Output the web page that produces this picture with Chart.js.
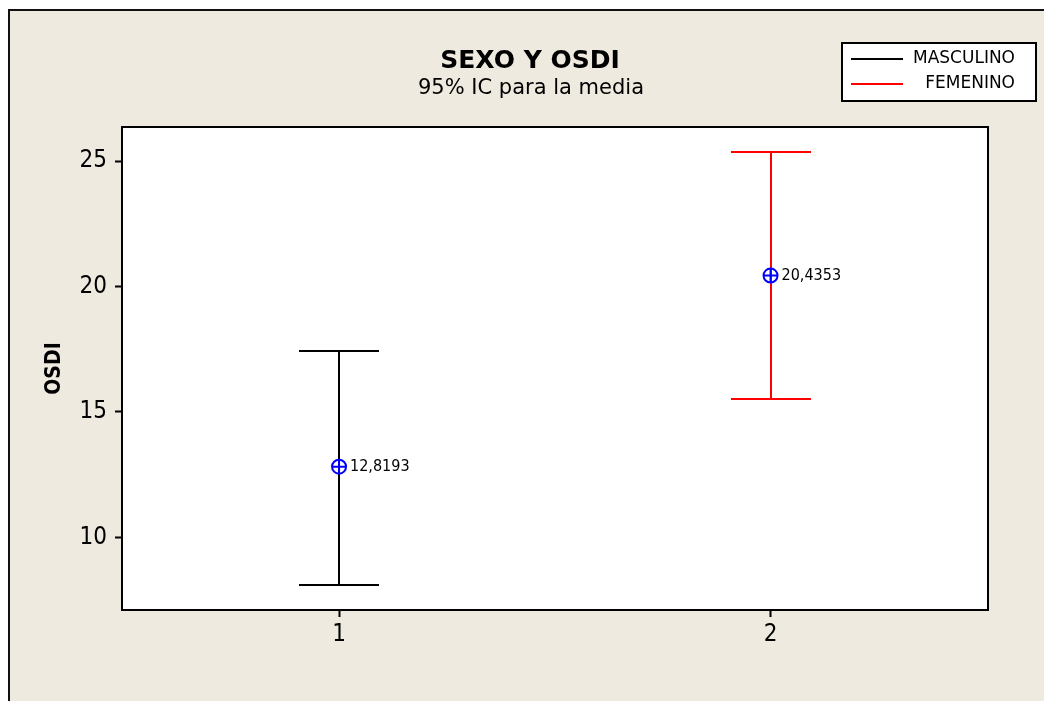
<!DOCTYPE html>
<html><head><meta charset="utf-8">
<script src="https://cdn.jsdelivr.net/npm/chart.js@4/dist/chart.umd.min.js"></script>
<style>html,body{margin:0;padding:0;background:#fff;overflow:hidden}#wrap{width:1044px;height:701px;position:relative}</style>
</head><body><div id="wrap"><canvas id="c" width="1044" height="701"></canvas></div>
<script>
const categories = ['MASCULINO', 'FEMENINO'];
const groupX = [1, 2];
const means = [12.8193, 20.4353];
const lowerCI = [8.10, 15.53];
const upperCI = [17.44, 25.37];
const seriesColors = ['#000000', '#FF0000'];
const xTicks = [1, 2];
const yTicks = [10, 15, 20, 25];
const titleText = 'SEXO Y OSDI';
const subtitleText = '95% IC para la media';
const yTitle = 'OSDI';

const FONT = "'DejaVu Sans Condensed','DejaVu Sans',sans-serif";
const FONT2 = "'DejaVu Sans',sans-serif";
const MARK = '#0000FF';
const BG = '#EEEAE0';
const CAP = 40;

const decorPlugin = {
  id: 'decor',
  beforeDraw(chart) {
    const ctx = chart.ctx, a = chart.chartArea, W = chart.width, H = chart.height;
    ctx.save();
    ctx.fillStyle = '#ffffff'; ctx.fillRect(0, 0, W, H);
    ctx.fillStyle = BG; ctx.fillRect(10, 11, W - 10, H - 11);
    ctx.strokeStyle = '#111'; ctx.lineWidth = 2;
    ctx.beginPath(); ctx.moveTo(9, H); ctx.lineTo(9, 10); ctx.lineTo(W, 10); ctx.stroke();
    ctx.fillStyle = '#ffffff'; ctx.fillRect(a.left, a.top, a.right - a.left, a.bottom - a.top);
    ctx.restore();
  },
  beforeDatasetsDraw(chart) {
    const ctx = chart.ctx, xs = chart.scales.x, ys = chart.scales.y;
    ctx.save();
    groupX.forEach((gx, i) => {
      const px = Math.round(xs.getPixelForValue(gx));
      const pl = Math.round(ys.getPixelForValue(lowerCI[i]));
      const pu = Math.round(ys.getPixelForValue(upperCI[i]));
      ctx.strokeStyle = seriesColors[i]; ctx.lineWidth = 2;
      ctx.beginPath();
      ctx.moveTo(px, pu); ctx.lineTo(px, pl);
      ctx.moveTo(px - CAP, pu); ctx.lineTo(px + CAP, pu);
      ctx.moveTo(px - CAP, pl); ctx.lineTo(px + CAP, pl);
      ctx.stroke();
    });
    ctx.restore();
  },
  afterDatasetsDraw(chart) {
    const ctx = chart.ctx, xs = chart.scales.x, ys = chart.scales.y;
    ctx.save();
    ctx.fillStyle = '#000'; ctx.font = '16px ' + FONT;
    ctx.textAlign = 'left'; ctx.textBaseline = 'middle';
    groupX.forEach((gx, i) => {
      const px = xs.getPixelForValue(gx), py = ys.getPixelForValue(means[i]);
      ctx.fillText(means[i].toFixed(4).replace('.', ','), px + 11, py);
    });
    ctx.restore();
  },
  afterDraw(chart) {
    const ctx = chart.ctx, a = chart.chartArea;
    ctx.save();
    ctx.strokeStyle = '#000'; ctx.lineWidth = 2;
    ctx.beginPath(); ctx.moveTo(a.left, a.top); ctx.lineTo(a.right, a.top); ctx.lineTo(a.right, a.bottom); ctx.stroke();
    ctx.fillStyle = '#000'; ctx.textAlign = 'center'; ctx.textBaseline = 'alphabetic';
    ctx.font = 'bold 25px ' + FONT2; ctx.fillText(titleText, 530, 68);
    ctx.font = '21px ' + FONT2; ctx.fillText(subtitleText, 531, 94);
    ctx.fillStyle = '#fff'; ctx.fillRect(842, 43, 194, 58);
    ctx.strokeStyle = '#000'; ctx.lineWidth = 2; ctx.strokeRect(842, 43, 194, 58);
    const ly = [59, 84];
    ctx.font = '17px ' + FONT2; ctx.textAlign = 'right'; ctx.textBaseline = 'middle';
    categories.forEach((c, i) => {
      ctx.strokeStyle = seriesColors[i]; ctx.lineWidth = 2;
      ctx.beginPath(); ctx.moveTo(851, ly[i]); ctx.lineTo(903, ly[i]); ctx.stroke();
      ctx.fillStyle = '#000'; ctx.fillText(c, 1015, ly[i]);
    });
    ctx.restore();
  }
};

const datasets = [];
categories.forEach((c, i) => {
  datasets.push({
    label: c, data: [{ x: groupX[i], y: means[i] }],
    pointStyle: 'circle', pointRadius: 7, pointBorderColor: MARK, pointBorderWidth: 2,
    pointBackgroundColor: 'rgba(0,0,0,0)', showLine: false
  });
  datasets.push({
    label: c + ' media', data: [{ x: groupX[i], y: means[i] }],
    pointStyle: 'cross', pointRadius: 7, pointBorderColor: MARK, pointBorderWidth: 2,
    pointBackgroundColor: MARK, showLine: false
  });
});

new Chart(document.getElementById('c'), {
  type: 'scatter',
  data: { datasets },
  options: {
    responsive: false, devicePixelRatio: 1, animation: false,
    layout: { padding: { top: 127, right: 56, bottom: 0, left: 0 } },
    plugins: { legend: { display: false }, tooltip: { enabled: false }, title: { display: false } },
    scales: {
      x: {
        type: 'linear', min: 0.497, max: 2.504,
        afterBuildTicks: s => { s.ticks = xTicks.map(v => ({ value: v })); },
        afterFit: s => { s.height = 91; },
        ticks: { font: { size: 24, family: FONT }, color: '#000', padding: 3, callback: v => String(v) },
        grid: { display: true, drawOnChartArea: false, drawTicks: true, tickLength: 7, tickColor: '#000', tickWidth: 2 },
        border: { display: true, color: '#000', width: 2 }
      },
      y: {
        type: 'linear', min: 7.105, max: 26.36,
        afterBuildTicks: s => { s.ticks = yTicks.map(v => ({ value: v })); },
        afterFit: s => { s.width = 122; },
        ticks: { font: { size: 24, family: FONT }, color: '#000', padding: 8, callback: v => String(v) },
        grid: { display: true, drawOnChartArea: false, drawTicks: true, tickLength: 7, tickColor: '#000', tickWidth: 2 },
        border: { display: true, color: '#000', width: 2 },
        title: { display: true, text: yTitle, color: '#000', font: { size: 21, weight: 'bold', family: FONT }, padding: { top: 42, bottom: 0 } }
      }
    }
  },
  plugins: [decorPlugin]
});
</script>
</body></html>
